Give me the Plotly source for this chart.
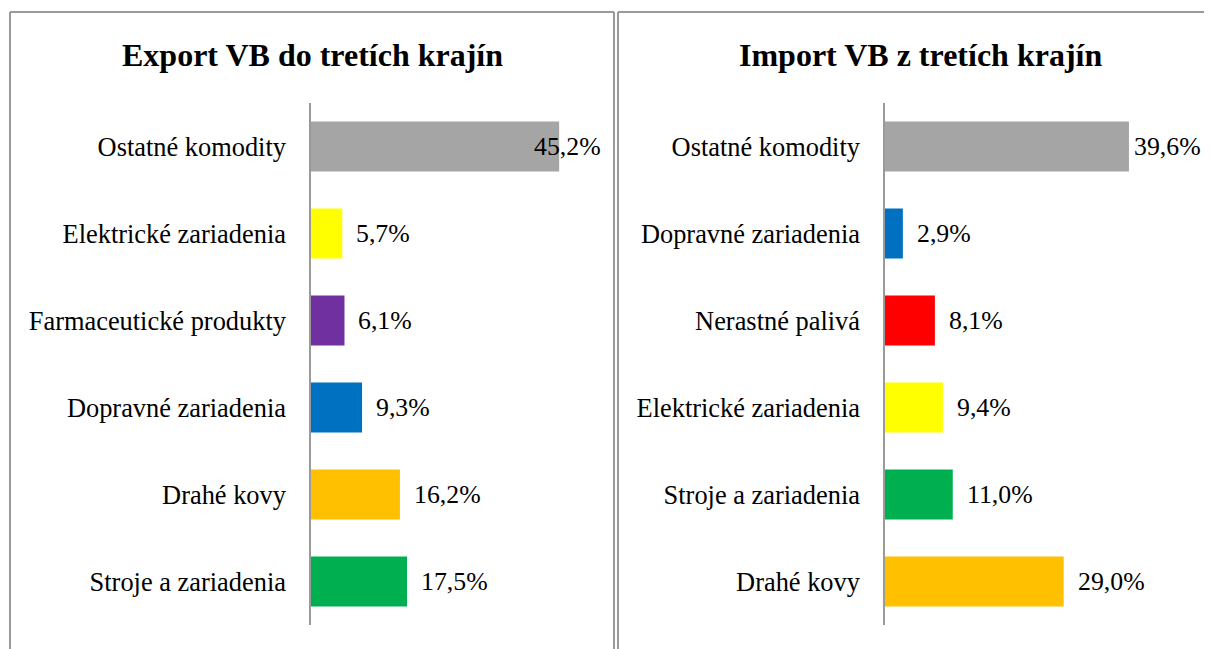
import plotly.graph_objects as go

# Page has an 8px body margin: the figure starts at (8, 8) in the window
OFF = 8
W, H = 1212 - OFF, 649 - OFF
VISIBLE_RIGHT = 1203  # rightmost visible pixel of the figure in the window

# Data (listed bottom -> top)
export_title = "Export VB do tretích krajín"
export_cats = ["Stroje a zariadenia", "Drahé kovy", "Dopravné zariadenia",
               "Farmaceutické produkty", "Elektrické zariadenia", "Ostatné komodity"]
export_vals = [17.5, 16.2, 9.3, 6.1, 5.7, 45.2]
export_cols = ["#00B050", "#FFC000", "#0070C0", "#7030A0", "#FFFF00", "#A5A5A5"]

import_title = "Import VB z tretích krajín"
import_cats = ["Drahé kovy", "Stroje a zariadenia", "Elektrické zariadenia",
               "Nerastné palivá", "Dopravné zariadenia", "Ostatné komodity"]
import_vals = [29.0, 11.0, 9.4, 8.1, 2.9, 39.6]
import_cols = ["#FFC000", "#00B050", "#FFFF00", "#FF0000", "#0070C0", "#A5A5A5"]

FONT = "Liberation Serif, Times New Roman, serif"
LBL = 26.4
VAL = 25.8
TTL = 32

# panel geometry (window pixels)
X0_L, SCALE_L, XMAX_L, LIMIT_L = 311, 5.49, 50, 603
X0_R, SCALE_R, XMAX_R, LIMIT_R = 885, 6.16, 45, VISIBLE_RIGHT


def px(x):
    return (x - OFF) / W


def py(y):
    return 1 - (y - OFF) / H


def fmt(v):
    return f"{v:.1f}".replace(".", ",") + "%"


fig = go.Figure()

fig.add_trace(go.Bar(x=export_vals, y=export_cats, orientation="h",
                     marker=dict(color=export_cols, line=dict(width=0)),
                     xaxis="x", yaxis="y", showlegend=False, hoverinfo="skip"))
fig.add_trace(go.Bar(x=import_vals, y=import_cats, orientation="h",
                     marker=dict(color=import_cols, line=dict(width=0)),
                     xaxis="x2", yaxis="y2", showlegend=False, hoverinfo="skip"))

yd = [py(625), py(103)]
common_x = dict(showgrid=False, zeroline=False, showticklabels=False, showline=False, fixedrange=True)
common_y = dict(showgrid=False, zeroline=False, showline=True, linecolor="#9a9a9a", linewidth=1.5,
                ticks="", tickfont=dict(family=FONT, size=LBL, color="black"),
                ticklabelstandoff=18, type="category", domain=yd)

fig.update_layout(
    width=W, height=H, margin=dict(l=0, r=0, t=0, b=0),
    paper_bgcolor="white", plot_bgcolor="white",
    bargap=0.425,
    xaxis=dict(domain=[px(X0_L), px(X0_L + SCALE_L * XMAX_L)], range=[0, XMAX_L], anchor="y", **common_x),
    yaxis=dict(anchor="x", **common_y),
    xaxis2=dict(domain=[px(X0_R), px(X0_R + SCALE_R * XMAX_R)], range=[0, XMAX_R], anchor="y2", **common_x),
    yaxis2=dict(anchor="x2", **common_y),
)

annotations = []
LABEL_W = 66  # approx. rendered width of a value label like "45,2%"
for cats, vals, xr, yr, x0, sc, lim in [
        (export_cats, export_vals, "x", "y", X0_L, SCALE_L, LIMIT_L),
        (import_cats, import_vals, "x2", "y2", X0_R, SCALE_R, LIMIT_R)]:
    for c, v in zip(cats, vals):
        end = x0 + v * sc
        if end + 12 + LABEL_W > lim:
            # pushed back inside the chart area, right-aligned at the limit
            annotations.append(dict(x=v, y=c, xref=xr, yref=yr, text=fmt(v), showarrow=False,
                                    xanchor="right", xshift=lim - end,
                                    font=dict(family=FONT, size=VAL, color="black")))
        else:
            annotations.append(dict(x=v, y=c, xref=xr, yref=yr, text=fmt(v), showarrow=False,
                                    xanchor="left", xshift=12,
                                    font=dict(family=FONT, size=VAL, color="black")))

annotations.append(dict(x=px(312), y=py(55), xref="paper", yref="paper", text=f"<b>{export_title}</b>",
                        showarrow=False, xanchor="center", yanchor="middle",
                        font=dict(family=FONT, size=TTL, color="black")))
annotations.append(dict(x=px(920), y=py(55), xref="paper", yref="paper", text=f"<b>{import_title}</b>",
                        showarrow=False, xanchor="center", yanchor="middle",
                        font=dict(family=FONT, size=TTL, color="black")))
fig.update_layout(annotations=annotations)

border = dict(color="#9a9a9a", width=2)
shapes = [
    # left panel
    dict(type="line", xref="paper", yref="paper", x0=px(10), x1=px(10), y0=py(12), y1=-0.05, line=border),
    dict(type="line", xref="paper", yref="paper", x0=px(10), x1=px(614), y0=py(12), y1=py(12), line=border),
    dict(type="line", xref="paper", yref="paper", x0=px(614), x1=px(614), y0=py(12), y1=-0.05, line=border),
    # right panel
    dict(type="line", xref="paper", yref="paper", x0=px(618), x1=px(618), y0=py(12), y1=-0.05, line=border),
    dict(type="line", xref="paper", yref="paper", x0=px(618), x1=1.05, y0=py(12), y1=py(12), line=border),
]
fig.update_layout(shapes=shapes)

fig.write_html("out.html")
